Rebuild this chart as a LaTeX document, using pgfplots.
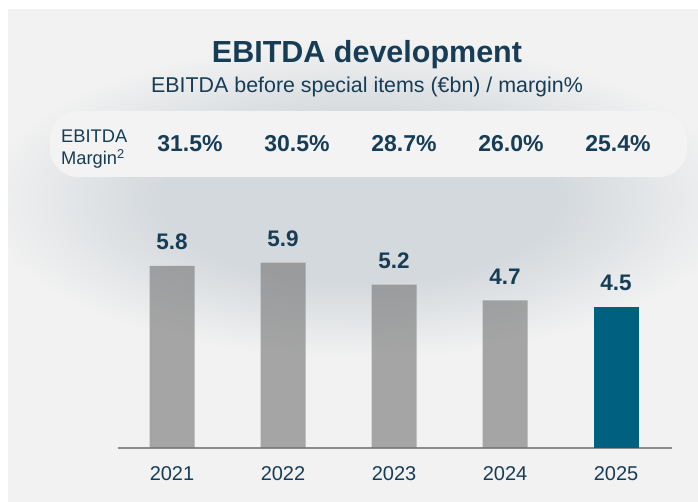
\documentclass[border=0pt]{standalone}
\usepackage{pgfplots}
\pgfplotsset{compat=1.18}
\usepackage{fontspec}
\setmainfont{Liberation Sans}
\definecolor{navy}{HTML}{173D56}
\definecolor{panel}{HTML}{F2F2F2}
\definecolor{bandc}{HTML}{F3F3F3}
\definecolor{shadowc}{HTML}{D4D9DD}
\definecolor{barg}{HTML}{737373}
\definecolor{ebteal}{HTML}{00607F}
\definecolor{axisg}{HTML}{8C8C8C}
\pgfdeclareradialshading{blob}{\pgfpoint{0bp}{0bp}}{color(0bp)=(shadowc); color(13bp)=(shadowc); color(25bp)=(panel); color(50bp)=(panel)}
\begin{document}
\begin{tikzpicture}[x=1pt,y=1pt]
\useasboundingbox (0,0) rectangle (698,502);
\fill[white] (0,0) rectangle (698,502);
\fill[panel] (8,0) rectangle (698,493);
\begin{scope}
\clip (8,0) rectangle (698,493);
\begin{scope}[shift={(360,302)}, yscale=0.42]
\shade[shading=blob] (-380,-380) rectangle (380,380);
\end{scope}
\end{scope}
\fill[bandc, rounded corners=28pt] (50,502-111) rectangle (687,502-177);
\node[anchor=base, text=navy, font=\fontsize{30.5}{36}\selectfont\bfseries] at (367,502-62.7) {EBITDA development};
\node[anchor=base, text=navy, font=\fontsize{21.4}{26}\selectfont] at (367,502-92.7) {EBITDA before special items (€bn) / margin\%};
\node[anchor=base west, inner sep=0pt, text=navy, font=\fontsize{18.3}{22}\selectfont] at (61,502-142.7) {EBITDA};
\node[anchor=base west, inner sep=0pt, text=navy, font=\fontsize{18.3}{22}\selectfont] at (61,502-165) {Margin\textsuperscript{2}};
\foreach \x/\t in {190/31.5,297/30.5,404/28.7,511/26.0,618/25.4}
  \node[anchor=base, text=navy, font=\fontsize{23}{28}\selectfont\bfseries] at (\x,502-151.7) {\t\%};
\begin{axis}[
  at={(172pt,54pt)}, anchor=origin,
  x=111pt, y=31.4pt,
  xmin=-0.49, xmax=4.5, ymin=0, ymax=8,
  axis x line=bottom, axis y line=none,
  x axis line style={-, draw=axisg, line width=1.6pt},
  xtick={0,1,2,3,4}, xticklabels={2021,2022,2023,2024,2025},
  major tick length=0pt,
  xticklabel style={anchor=base, yshift=-33pt, text=navy, font=\fontsize{20}{24}\selectfont},
  ytick=\empty,
  ybar, bar width=45pt,
  nodes near coords={\pgfmathprintnumber[fixed,fixed zerofill,precision=1,assume math mode=true]{\pgfplotspointmeta}},
  every node near coord/.append style={font=\fontsize{22.5}{27}\selectfont\bfseries, text=navy, anchor=base, yshift=16pt, text opacity=1},
  clip=false,
]
\addplot[fill=barg, fill opacity=0.6, draw=none, bar shift=0pt] coordinates {(0,5.8) (1,5.9) (2,5.2) (3,4.7)};
\addplot[fill=ebteal, draw=none, bar shift=0pt] coordinates {(4,4.5)};
\end{axis}
\end{tikzpicture}
\end{document}
